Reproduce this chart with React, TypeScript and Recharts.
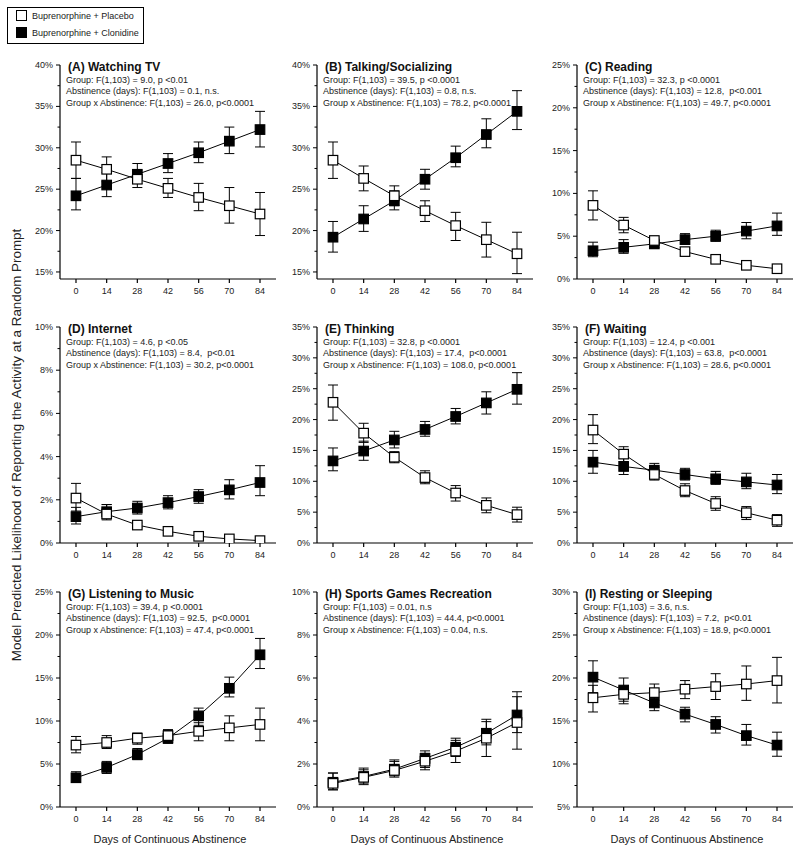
import React from "react";
import { ErrorBar, Line, LineChart, XAxis, YAxis } from "recharts";

const days = [0, 14, 28, 42, 56, 70, 84];

// error bars are [below, above] the point, in percentage points
const tvPlacebo = [28.5, 27.4, 26.2, 25.1, 24.0, 23.0, 22.0];
const tvPlaceboErr = [[2.2, 2.2], [1.5, 1.5], [1.0, 1.0], [1.1, 1.2], [1.6, 1.7], [2.1, 2.2], [2.6, 2.6]];
const tvClonidine = [24.2, 25.5, 26.8, 28.1, 29.4, 30.8, 32.2];
const tvClonidineErr = [[1.7, 2.1], [1.4, 1.5], [1.1, 1.3], [1.1, 1.2], [1.2, 1.3], [1.5, 1.7], [2.1, 2.2]];

const talkPlacebo = [28.5, 26.3, 24.2, 22.4, 20.6, 18.9, 17.2];
const talkPlaceboErr = [[2.2, 2.2], [1.5, 1.5], [1.2, 1.2], [1.3, 1.2], [1.8, 1.6], [2.1, 2.1], [2.4, 2.6]];
const talkClonidine = [19.2, 21.4, 23.6, 26.2, 28.8, 31.6, 34.4];
const talkClonidineErr = [[1.8, 1.9], [1.5, 1.6], [1.1, 1.2], [1.2, 1.2], [1.1, 1.4], [1.6, 1.9], [2.2, 2.5]];

const readPlacebo = [8.6, 6.3, 4.5, 3.2, 2.3, 1.6, 1.2];
const readPlaceboErr = [[1.7, 1.7], [0.9, 0.9], [0.4, 0.4], [0.4, 0.4], [0.4, 0.4], [0.3, 0.3], [0.2, 0.2]];
const readClonidine = [3.3, 3.7, 4.1, 4.6, 5.0, 5.6, 6.2];
const readClonidineErr = [[0.7, 1.0], [0.7, 0.9], [0.4, 0.4], [0.5, 0.7], [0.6, 0.7], [0.9, 1.0], [1.1, 1.5]];

const netPlacebo = [2.08, 1.34, 0.83, 0.54, 0.31, 0.19, 0.11];
const netPlaceboErr = [[0.6, 0.68], [0.27, 0.44], [0.1, 0.1], [0.08, 0.08], [0.06, 0.06], [0.04, 0.04], [0.03, 0.03]];
const netClonidine = [1.22, 1.45, 1.62, 1.87, 2.15, 2.46, 2.8];
const netClonidineErr = [[0.34, 0.43], [0.3, 0.33], [0.28, 0.31], [0.29, 0.32], [0.31, 0.32], [0.42, 0.47], [0.61, 0.78]];

const thinkPlacebo = [22.8, 17.8, 13.9, 10.6, 8.1, 6.1, 4.6];
const thinkPlaceboErr = [[2.9, 2.8], [1.5, 1.6], [0.9, 0.9], [1.0, 1.1], [1.3, 1.2], [1.2, 1.2], [1.2, 1.2]];
const thinkClonidine = [13.3, 14.9, 16.7, 18.4, 20.5, 22.7, 24.9];
const thinkClonidineErr = [[1.6, 2.1], [1.5, 1.6], [1.3, 1.4], [1.1, 1.3], [1.2, 1.3], [1.8, 1.8], [2.4, 2.7]];

const waitPlacebo = [18.3, 14.4, 11.1, 8.5, 6.4, 4.9, 3.7];
const waitPlaceboErr = [[2.2, 2.5], [1.2, 1.2], [0.9, 1.1], [1.0, 1.1], [1.1, 1.1], [1.1, 1.0], [1.0, 0.9]];
const waitClonidine = [13.1, 12.4, 11.8, 11.1, 10.4, 9.9, 9.4];
const waitClonidineErr = [[1.8, 1.9], [1.3, 1.4], [1.0, 1.1], [0.9, 1.0], [0.9, 1.2], [1.1, 1.4], [1.4, 1.7]];

const musicPlacebo = [7.2, 7.5, 8.0, 8.3, 8.8, 9.2, 9.6];
const musicPlaceboErr = [[0.9, 1.0], [0.7, 0.8], [0.7, 0.6], [0.8, 0.7], [1.1, 1.0], [1.5, 1.4], [1.9, 1.9]];
const musicClonidine = [3.4, 4.6, 6.1, 8.0, 10.6, 13.8, 17.7];
const musicClonidineErr = [[0.5, 0.7], [0.7, 0.7], [0.6, 0.7], [0.6, 0.9], [1.1, 0.9], [1.0, 1.3], [1.6, 1.9]];

const sportsPlacebo = [1.1, 1.38, 1.7, 2.13, 2.6, 3.2, 3.93];
const sportsPlaceboErr = [[0.3, 0.48], [0.34, 0.35], [0.31, 0.42], [0.4, 0.37], [0.53, 0.5], [0.85, 0.77], [1.24, 1.2]];
const sportsClonidine = [1.15, 1.42, 1.76, 2.26, 2.78, 3.43, 4.28];
const sportsClonidineErr = [[0.35, 0.43], [0.31, 0.39], [0.31, 0.43], [0.42, 0.35], [0.43, 0.42], [0.54, 0.65], [0.82, 1.08]];

const restPlacebo = [17.7, 18.1, 18.3, 18.7, 19.0, 19.3, 19.7];
const restPlaceboErr = [[1.65, 1.45], [1.1, 0.9], [0.9, 1.0], [1.1, 1.0], [1.5, 1.5], [1.9, 2.1], [2.6, 2.7]];
const restClonidine = [20.1, 18.6, 17.1, 15.8, 14.6, 13.3, 12.2];
const restClonidineErr = [[1.8, 1.9], [1.3, 1.4], [0.9, 1.2], [0.9, 0.8], [1.0, 0.9], [1.1, 1.3], [1.3, 1.5]];

const panels = [
  {
    title: "(A) Watching TV",
    stats: ["Group: F(1,103) = 9.0, p <0.01", "Abstinence (days): F(1,103) = 0.1, n.s.", "Group x Abstinence: F(1,103) = 26.0, p<0.0001"],
    placebo: tvPlacebo, placeboErr: tvPlaceboErr, clonidine: tvClonidine, clonidineErr: tvClonidineErr,
    domain: [14.15, 40], min: 15, max: 40, step: 5,
  },
  {
    title: "(B) Talking/Socializing",
    stats: ["Group: F(1,103) = 39.5, p <0.0001", "Abstinence (days): F(1,103) = 0.8, n.s.", "Group x Abstinence: F(1,103) = 78.2, p<0.0001"],
    placebo: talkPlacebo, placeboErr: talkPlaceboErr, clonidine: talkClonidine, clonidineErr: talkClonidineErr,
    domain: [14.15, 40], min: 15, max: 40, step: 5,
  },
  {
    title: "(C) Reading",
    stats: ["Group: F(1,103) = 32.3, p <0.0001", "Abstinence (days): F(1,103) = 12.8,  p<0.001", "Group x Abstinence: F(1,103) = 49.7, p<0.0001"],
    placebo: readPlacebo, placeboErr: readPlaceboErr, clonidine: readClonidine, clonidineErr: readClonidineErr,
    domain: [0, 25], min: 0, max: 25, step: 5,
  },
  {
    title: "(D) Internet",
    stats: ["Group: F(1,103) = 4.6, p <0.05", "Abstinence (days): F(1,103) = 8.4,  p<0.01", "Group x Abstinence: F(1,103) = 30.2, p<0.0001"],
    placebo: netPlacebo, placeboErr: netPlaceboErr, clonidine: netClonidine, clonidineErr: netClonidineErr,
    domain: [0, 10], min: 0, max: 10, step: 2,
  },
  {
    title: "(E) Thinking",
    stats: ["Group: F(1,103) = 32.8, p <0.0001", "Abstinence (days): F(1,103) = 17.4,  p<0.0001", "Group x Abstinence: F(1,103) = 108.0, p<0.0001"],
    placebo: thinkPlacebo, placeboErr: thinkPlaceboErr, clonidine: thinkClonidine, clonidineErr: thinkClonidineErr,
    domain: [0, 35], min: 0, max: 35, step: 5,
  },
  {
    title: "(F) Waiting",
    stats: ["Group: F(1,103) = 12.4, p <0.001", "Abstinence (days): F(1,103) = 63.8,  p<0.0001", "Group x Abstinence: F(1,103) = 28.6, p<0.0001"],
    placebo: waitPlacebo, placeboErr: waitPlaceboErr, clonidine: waitClonidine, clonidineErr: waitClonidineErr,
    domain: [0, 35], min: 0, max: 35, step: 5,
  },
  {
    title: "(G) Listening to Music",
    stats: ["Group: F(1,103) = 39.4, p <0.0001", "Abstinence (days): F(1,103) = 92.5,  p<0.0001", "Group x Abstinence: F(1,103) = 47.4, p<0.0001"],
    placebo: musicPlacebo, placeboErr: musicPlaceboErr, clonidine: musicClonidine, clonidineErr: musicClonidineErr,
    domain: [0, 25], min: 0, max: 25, step: 5,
  },
  {
    title: "(H) Sports Games Recreation",
    stats: ["Group: F(1,103) = 0.01, n.s", "Abstinence (days): F(1,103) = 44.4, p<0.0001", "Group x Abstinence: F(1,103) = 0.04, n.s."],
    placebo: sportsPlacebo, placeboErr: sportsPlaceboErr, clonidine: sportsClonidine, clonidineErr: sportsClonidineErr,
    domain: [0, 10], min: 0, max: 10, step: 2,
  },
  {
    title: "(I) Resting or Sleeping",
    stats: ["Group: F(1,103) = 3.6, n.s.", "Abstinence (days): F(1,103) = 7.2,  p<0.01", "Group x Abstinence: F(1,103) = 18.9, p<0.0001"],
    placebo: restPlacebo, placeboErr: restPlaceboErr, clonidine: restClonidine, clonidineErr: restClonidineErr,
    domain: [5, 30], min: 5, max: 30, step: 5,
  },
];

const FONT = "'Liberation Sans', Arial, Helvetica, sans-serif";
const colLeft = [60, 317, 577];
const rowTop = [65, 327, 592];
const rowBottom = [279, 543, 807];
const PLOT_W = 216;

function Square(props: any) {
  const { cx, cy, filled } = props;
  if (cx == null || cy == null) return null;
  return <rect x={cx - 4.75} y={cy - 4.75} width={9.5} height={9.5} fill={filled ? "#000" : "#fff"} stroke="#000" strokeWidth={1.2} />;
}

function makeYTick(step: number) {
  return (props: any) => {
    const { x, y, payload } = props;
    const v = payload.value;
    const major = Math.abs(v / step - Math.round(v / step)) < 1e-6;
    return (
      <g>
        <line x1={x - (major ? 4 : 2.5)} x2={x} y1={y} y2={y} stroke="#000" strokeWidth={1} />
        {major && (
          <text x={x - 7} y={y} textAnchor="end" dominantBaseline="central" fontSize={9} fill="#222" fontFamily={FONT}>
            {`${v}%`}
          </text>
        )}
      </g>
    );
  };
}

function Panel({ p, idx }: { p: any; idx: number }) {
  const col = idx % 3;
  const row = Math.floor(idx / 3);
  const plotH = rowBottom[row] - rowTop[row];
  const data = days.map((d, i) => ({
    day: d,
    placebo: p.placebo[i],
    placeboErr: p.placeboErr[i],
    clonidine: p.clonidine[i],
    clonidineErr: p.clonidineErr[i],
  }));
  const ticks: number[] = [];
  for (let v = p.min; v <= p.max + 1e-9; v += p.step / 2) ticks.push(Math.round(v * 100) / 100);
  return (
    <div style={{ position: "absolute", left: colLeft[col] - 60, top: rowTop[row] - 10 }}>
      <LineChart width={60 + PLOT_W + 4} height={plotH + 40} data={data} margin={{ top: 10, right: 4, bottom: 0, left: 0 }}>
        <XAxis
          type="number"
          dataKey="day"
          domain={[-7.3, 91.3]}
          ticks={days}
          interval={0}
          allowDataOverflow
          height={30}
          tickSize={4}
          tickMargin={5}
          stroke="#000"
          strokeWidth={1.2}
          tick={{ fill: "#222", fontSize: 9, fontFamily: FONT }}
        />
        <YAxis
          type="number"
          domain={p.domain}
          ticks={ticks}
          interval={0}
          allowDataOverflow
          width={60}
          tickSize={0}
          tickMargin={0}
          tickLine={false}
          stroke="#000"
          strokeWidth={1.2}
          tick={makeYTick(p.step)}
        />
        <Line
          type="linear"
          dataKey="clonidine"
          stroke="#000"
          strokeWidth={1}
          isAnimationActive={false}
          activeDot={false}
          dot={(d: any) => <Square key={`c${d.index}`} cx={d.cx} cy={d.cy} filled />}
        >
          <ErrorBar dataKey="clonidineErr" width={5} stroke="#000" strokeWidth={1} direction="y" />
        </Line>
        <Line
          type="linear"
          dataKey="placebo"
          stroke="#000"
          strokeWidth={1}
          isAnimationActive={false}
          activeDot={false}
          dot={(d: any) => <Square key={`p${d.index}`} cx={d.cx} cy={d.cy} filled={false} />}
        >
          <ErrorBar dataKey="placeboErr" width={5} stroke="#000" strokeWidth={1} direction="y" />
        </Line>
      </LineChart>
    </div>
  );
}

export default function App() {
  return (
    <div style={{ position: "absolute", left: 0, top: 0, width: 800, height: 853, background: "#fff", fontFamily: FONT }}>
      {panels.map((p, i) => (
        <Panel key={i} p={p} idx={i} />
      ))}
      <svg width={800} height={853} style={{ position: "absolute", left: 0, top: 0, pointerEvents: "none" }} fontFamily={FONT}>
        {/* legend */}
        <rect x={7.5} y={7.5} width={136} height={36} fill="#fff" stroke="#000" strokeWidth={1} />
        <rect x={16.5} y={10.5} width={10} height={10} fill="#fff" stroke="#000" strokeWidth={1} />
        <text x={32} y={15.5} fontSize={9} dominantBaseline="central" fill="#222">Buprenorphine + Placebo</text>
        <rect x={16.5} y={27.5} width={10} height={10} fill="#000" stroke="#000" strokeWidth={1} />
        <text x={32} y={32.5} fontSize={9} dominantBaseline="central" fill="#222">Buprenorphine + Clonidine</text>

        {/* panel titles and statistics */}
        {panels.map((p, i) => {
          const x = colLeft[i % 3];
          const y = rowTop[Math.floor(i / 3)];
          return (
            <g key={i}>
              <text x={x + 8} y={y + 2} fontSize={12} fontWeight="bold" dominantBaseline="central" fill="#111">
                {p.title}
              </text>
              {p.stats.map((s: string, j: number) => (
                <text key={j} x={x + 6} y={y + 15 + j * 11.4} fontSize={9} dominantBaseline="central" fill="#222" style={{ whiteSpace: "pre" }}>
                  {s}
                </text>
              ))}
            </g>
          );
        })}

        {/* axis titles */}
        <text transform="translate(16,445) rotate(-90)" textAnchor="middle" dominantBaseline="central" fontSize={13.4} fill="#222">
          Model Predicted Likelihood of Reporting the Activity at a Random Prompt
        </text>
        {colLeft.map((x, i) => (
          <text key={i} x={x + 110} y={839} textAnchor="middle" dominantBaseline="central" fontSize={11} fill="#222">
            Days of Continuous Abstinence
          </text>
        ))}
      </svg>
    </div>
  );
}
